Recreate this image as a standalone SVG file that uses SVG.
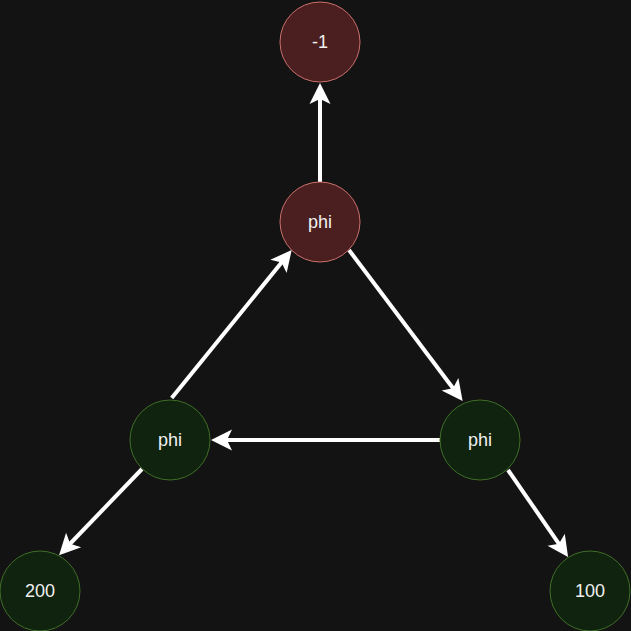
<svg xmlns="http://www.w3.org/2000/svg" width="631" height="631" viewBox="0 0 631 631">
<style>
.red{fill:#4b1f1f;stroke:#c9706c;stroke-width:1}
.green{fill:#10230f;stroke:#3f6f28;stroke-width:1}
.lbl{font-family:"Liberation Sans",Arial,sans-serif;font-size:18px;fill:#f0f0f0;text-anchor:middle;dominant-baseline:central}
.edge{stroke:#ffffff;stroke-width:4;fill:none}
</style>
<defs>
<marker id="arr" markerUnits="userSpaceOnUse" viewBox="-12 -12 24 24" markerWidth="24" markerHeight="24" refX="0" refY="0" orient="auto">
<path d="M10,0 L-11,-10.5 L-6,0 L-11,10.5 Z" fill="#ffffff"/>
</marker>
</defs>
<rect width="631" height="631" fill="#131313"/>
<g id="connectors">
<line class="edge" x1="320" y1="182" x2="320" y2="93" marker-end="url(#arr)"/>
<line class="edge" x1="171.7" y1="398" x2="285.4" y2="257.8" marker-end="url(#arr)"/>
<line class="edge" x1="349" y1="250" x2="456.6" y2="393" marker-end="url(#arr)"/>
<line class="edge" x1="440" y1="440" x2="221" y2="440" marker-end="url(#arr)"/>
<line class="edge" x1="142" y1="469" x2="66" y2="548" marker-end="url(#arr)"/>
<line class="edge" x1="508" y1="470" x2="562.4" y2="548.8" marker-end="url(#arr)"/>
</g>
<g id="n_minus1"><circle class="red" cx="320" cy="42" r="40"/><text class="lbl" x="320" y="42">-1</text></g>
<g id="n_phi_top"><circle class="red" cx="320" cy="222" r="40"/><text class="lbl" x="320" y="222">phi</text></g>
<g id="n_phi_left"><circle class="green" cx="170" cy="440" r="40"/><text class="lbl" x="170" y="440">phi</text></g>
<g id="n_phi_right"><circle class="green" cx="480" cy="440" r="40"/><text class="lbl" x="480" y="440">phi</text></g>
<g id="n_200"><circle class="green" cx="40" cy="591" r="40"/><text class="lbl" x="40" y="591">200</text></g>
<g id="n_100"><circle class="green" cx="590" cy="591" r="40"/><text class="lbl" x="590" y="591">100</text></g>
</svg>
